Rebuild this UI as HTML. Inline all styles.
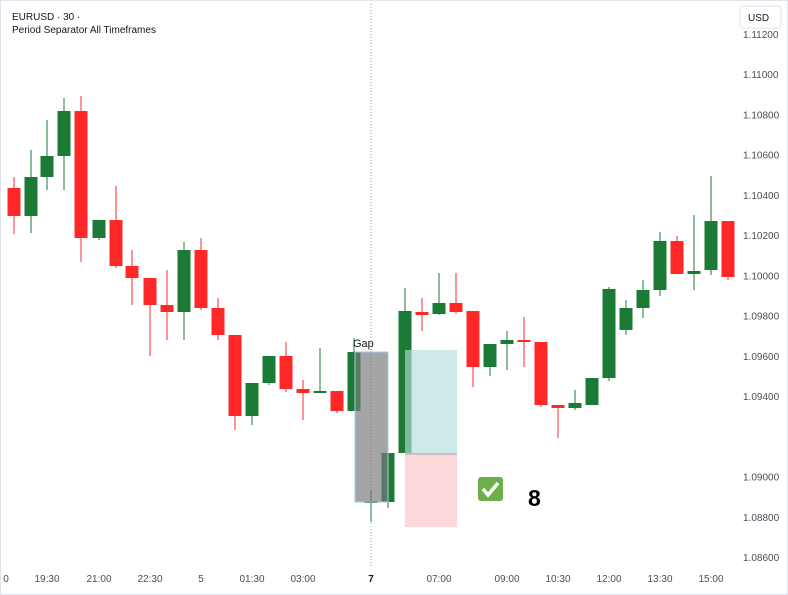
<!DOCTYPE html>
<html><head><meta charset="utf-8"><style>
html,body{margin:0;padding:0;background:#fff;}
svg{display:block;font-family:"Liberation Sans",sans-serif;}
</style></head><body>
<svg id="s" width="788" height="595" viewBox="0 0 788 595" xmlns="http://www.w3.org/2000/svg">
<rect x="0.5" y="0.5" width="787" height="594" fill="#fff" stroke="#e0e3eb"/>
<line x1="371" y1="4" x2="371" y2="567" stroke="#9598a1" stroke-dasharray="1,2"/>
<text x="12" y="20" font-size="10" fill="#131722">EURUSD · 30 ·</text>
<text x="12" y="33" font-size="10" fill="#131722">Period Separator All Timeframes</text>
<rect x="740" y="6" width="41" height="22" rx="3" fill="#fff" stroke="#e0e3eb"/>
<text x="748" y="21" font-size="10" fill="#131722">USD</text>
<g id="c"></g>
<rect x="355" y="352" width="33" height="150" fill="#7a7a7a" fill-opacity="0.68" stroke="#a8c8e8" stroke-width="1"/>
<rect x="405" y="350" width="52" height="104" fill="#b2dfdb" fill-opacity="0.65"/>
<rect x="405" y="454" width="52" height="73" fill="#fccbcd" fill-opacity="0.75"/>
<line x1="405" y1="454" x2="457" y2="454" stroke="#b0a0a0"/>
<text x="353" y="347" font-size="11" fill="#131722">Gap</text>
<rect x="478" y="477" width="25" height="24" rx="3" fill="#6fae4a"/>
<path d="M483 489 l5 6 l10 -12" stroke="#fff" stroke-width="3.5" fill="none"/>
<text x="528" y="506" font-size="23" font-weight="bold" fill="#000">8</text>
<g id="p" font-size="10" fill="#4a4e58"></g>
<g font-size="10" fill="#4a4e58" text-anchor="middle">
<text x="6" y="582">0</text><text x="47" y="582">19:30</text><text x="99" y="582">21:00</text>
<text x="150" y="582">22:30</text><text x="201" y="582">5</text><text x="252" y="582">01:30</text>
<text x="303" y="582">03:00</text><text x="371" y="582" font-weight="bold" fill="#131722">7</text>
<text x="439" y="582">07:00</text><text x="507" y="582">09:00</text><text x="558" y="582">10:30</text>
<text x="609" y="582">12:00</text><text x="660" y="582">13:30</text><text x="711" y="582">15:00</text>
</g>
</svg>
<script>
var d=[[14,'r',188,216,177,234],[31,'g',177,216,150,233],[47,'g',156,177,120,190],[64,'g',111,156,98,190],
[81,'r',111,238,96,262],[99,'g',220,238,220,240],[116,'r',220,266,186,268],[132,'r',266,278,250,305],
[150,'r',278,305,278,356],[167,'r',305,312,270,340],[184,'g',250,312,242,340],[201,'r',250,308,238,310],
[218,'r',308,335,298,340],[235,'r',335,416,335,430],[252,'g',383,416,383,425],[269,'g',356,383,356,385],
[286,'r',356,389,342,392],[303,'r',389,393,380,420],[320,'g',391,393,348,393],[337,'r',391,411,391,413],
[354,'g',352,411,338,411],[371,'g',501,503,490,522],[388,'g',453,502,438,508],[405,'g',311,453,288,453],
[422,'r',312,315,298,331],[439,'g',303,314,273,315],[456,'r',303,312,273,314],[473,'r',311,367,311,387],
[490,'g',344,367,344,376],[507,'g',340,344,331,370],[524,'r',340,342,317,367],[541,'r',342,405,342,407],
[558,'r',405,408,405,438],[575,'g',403,408,390,410],[592,'g',378,405,378,405],[609,'g',289,378,287,381],
[626,'g',308,330,300,335],[643,'g',290,308,280,318],[660,'g',241,290,232,296],[677,'r',241,274,236,274],
[694,'g',271,274,215,290],[711,'g',221,270,176,275],[728,'r',221,277,221,280]];
var h='';d.forEach(function(c){var col=c[1]=='g'?'#1b7a35':'#ff2828';
h+='<line x1="'+c[0]+'" y1="'+c[4]+'" x2="'+c[0]+'" y2="'+c[5]+'" stroke="'+col+'" stroke-width="1"/>';
h+='<rect x="'+(c[0]-6.5)+'" y="'+c[2]+'" width="13" height="'+Math.max(2,c[3]-c[2])+'" fill="'+col+'"/>';});
document.getElementById('c').innerHTML=h;
var p='';for(var i=0;i<=13;i++){if(i==10)continue;var v=(1.112-i*0.002).toFixed(5);var y=34+i*40.23;
p+='<text x="743" y="'+(y+4)+'">'+v+'</text>';}
document.getElementById('p').innerHTML=p;
</script>
</body></html>
